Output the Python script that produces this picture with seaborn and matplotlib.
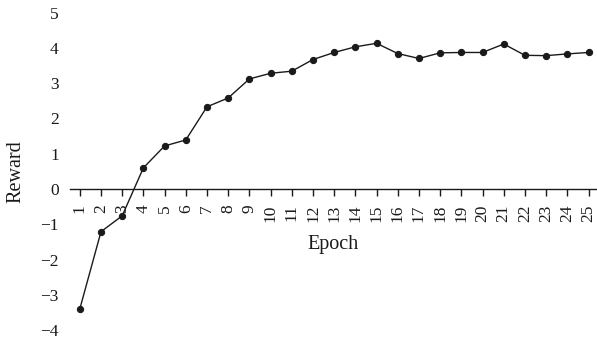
import matplotlib
matplotlib.use('Agg')
import matplotlib.pyplot as plt
import pandas as pd
import seaborn as sns

epochs = list(range(1, 26))
reward = [-3.40, -1.21, -0.76, 0.60, 1.22, 1.39, 2.33, 2.58, 3.12, 3.28,
          3.34, 3.67, 3.87, 4.03, 4.13, 3.84, 3.70, 3.86, 3.87, 3.87,
          4.11, 3.79, 3.78, 3.83, 3.87]
y_ticks = [-4, -3, -2, -1, 0, 1, 2, 3, 4, 5]

df = pd.DataFrame({'Epoch': epochs, 'Reward': reward})

sns.set_style("white")
plt.rcParams['font.family'] = ['Liberation Serif', 'DejaVu Serif']

fig = plt.figure(figsize=(5.97, 3.41), dpi=100)
ax = fig.add_axes([0.117, 0.032, 0.883, 0.931])

sns.lineplot(x='Epoch', y='Reward', data=df, ax=ax, color='#1a1a1a',
             linewidth=1.0, marker='o', markersize=4.5,
             markeredgecolor='#1a1a1a', markerfacecolor='#1a1a1a')

# ось X проходит через ноль
ax.spines['bottom'].set_position(('data', 0))
ax.spines['bottom'].set_color('#1a1a1a')
ax.spines['bottom'].set_linewidth(1.0)
for side in ['left', 'right', 'top']:
    ax.spines[side].set_visible(False)

ax.set_xlim(0.53, 25.4)
ax.set_ylim(-4, 5)
ax.set_xticks(epochs)
ax.set_xticklabels([str(e) for e in epochs], rotation=90, fontsize=12.5,
                   color='#1a1a1a')
ax.set_yticks(y_ticks)
ax.set_yticklabels([str(v).replace('-', '\u2212') for v in y_ticks],
                   fontsize=12.5, color='#1a1a1a')
ax.tick_params(axis='x', direction='out', length=5, width=1.0,
               color='#1a1a1a', pad=6, bottom=True)
ax.tick_params(axis='y', length=0, pad=8)

ax.set_xlabel('Epoch', fontsize=14.5, color='#1a1a1a')
ax.xaxis.set_label_coords(0.5, 0.30)
ax.set_ylabel('Reward', fontsize=14.5, color='#1a1a1a')
ax.yaxis.set_label_coords(-0.084, 0.5)

fig.savefig('out.png', dpi=100)
